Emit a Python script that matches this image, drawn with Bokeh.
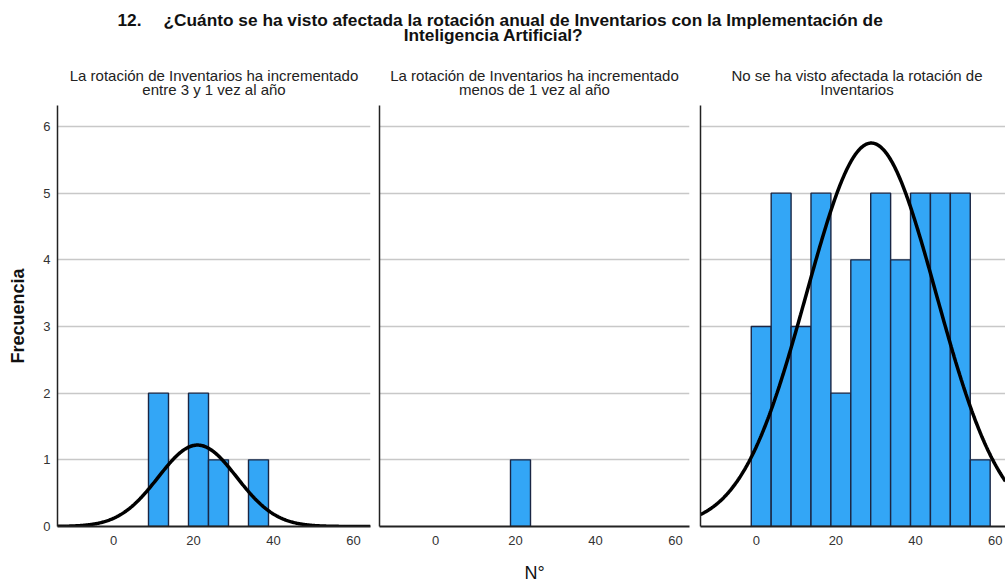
import numpy as np
from bokeh.plotting import figure
from bokeh.layouts import column, row
from bokeh.models import Range1d, FixedTicker
from bokeh.core.properties import value
from bokeh.embed import file_html
from bokeh.resources import INLINE

# ---- data -------------------------------------------------------------
title_num = "12."
title_line1 = "¿Cuánto se ha visto afectada la rotación anual de Inventarios con la Implementación de"
title_line2 = "Inteligencia Artificial?"

panel_titles = [
    ["La rotación de Inventarios ha incrementado", "entre 3 y 1 vez al año"],
    ["La rotación de Inventarios ha incrementado", "menos de 1 vez al año"],
    ["No se ha visto afectada la rotación de", "Inventarios"],
]

# histogram bins shared by all groups (left edges, common width)
bin_lefts = [-1.25, 3.75, 8.75, 13.75, 18.75, 23.75, 28.75, 33.75, 38.75, 43.75, 48.75, 53.75]
bin_width = 5.0

counts_incr_3_1 = [0, 0, 2, 0, 2, 1, 0, 1, 0, 0, 0, 0]
counts_incr_menos_1 = [0, 0, 0, 0, 1, 0, 0, 0, 0, 0, 0, 0]
counts_no_afectada = [3, 5, 3, 5, 2, 4, 5, 4, 5, 5, 5, 1]
group_counts = [counts_incr_3_1, counts_incr_menos_1, counts_no_afectada]

# fitted normal curve (mean, std. dev.) per group; None = no curve
normal_params = [(21.0, 9.8), None, (28.9, 16.3)]

x_ticks = [0, 20, 40, 60]
y_ticks = [0, 1, 2, 3, 4, 5, 6]
y_label = "Frecuencia"
x_label = "N°"

# ---- styling ----------------------------------------------------------
FONT = "Liberation Sans"
BAR_FILL = "#33a6f6"
BAR_LINE = "#1a2644"
GRID = "#c8c8c8"
AXIS = "#222222"

# panel geometry: (border_left, frame_width, border_right, x_end)
geometry = [
    (57, 313, 4, 64.25),
    (5, 310, 5, 63.5),
    (6, 305, 0, 62.6),
]
X_START = -14.0
FRAME_H = 421
Y_END = 6.315
HEADER_H = 101

# ---- header strip: main title and panel headings -----------------------
top = figure(width=1005, height=HEADER_H, x_range=Range1d(0, 1005), y_range=Range1d(HEADER_H, 0),
             toolbar_location=None, output_backend="svg", min_border=0)
top.axis.visible = False
top.grid.visible = False
top.outline_line_color = None
title_style = dict(text_font=value(FONT), text_font_style="bold", text_font_size="17.3px",
                   text_baseline="middle", text_color="#111111")
top.text(x=[141], y=[19], text=[title_num], text_align="right", **title_style)
top.text(x=[163], y=[19], text=[title_line1], text_align="left", **title_style)
top.text(x=[493], y=[34], text=[title_line2], text_align="center", **title_style)

# horizontal centre of each panel frame (third panel runs past the page edge)
panel_centres = [57 + 313 / 2, 379 + 310 / 2, 700 + 313 / 2]
head_style = dict(text_font=value(FONT), text_font_size="15px", text_baseline="middle",
                  text_align="center", text_color="#222222")
for cx, lines in zip(panel_centres, panel_titles):
    top.text(x=[cx, cx], y=[75, 88.5], text=lines, **head_style)

# ---- histogram panels ---------------------------------------------------
panels = []
for i, (counts, params, geo) in enumerate(zip(group_counts, normal_params, geometry)):
    bl, fw, br, x_end = geo
    p = figure(frame_width=fw, frame_height=FRAME_H,
               x_range=Range1d(X_START, x_end), y_range=Range1d(0, Y_END),
               toolbar_location=None, output_backend="svg",
               min_border_left=bl, min_border_right=br, min_border_top=4, min_border_bottom=58)
    p.title = None
    p.outline_line_color = None
    p.background_fill_color = "white"
    p.border_fill_color = "white"

    p.xgrid.visible = False
    p.ygrid.ticker = FixedTicker(ticks=y_ticks[1:])
    p.ygrid.grid_line_color = GRID
    p.ygrid.grid_line_width = 1.5

    xa = p.xaxis[0]
    xa.ticker = FixedTicker(ticks=x_ticks)
    xa.major_tick_line_color = None
    xa.minor_tick_line_color = None
    xa.major_tick_out = 0
    xa.major_tick_in = 0
    xa.major_label_standoff = 9
    xa.major_label_text_font = FONT
    xa.major_label_text_font_size = "13px"
    xa.major_label_text_color = "#333333"
    xa.axis_line_color = AXIS
    xa.axis_line_width = 2

    ya = p.yaxis[0]
    ya.major_tick_line_color = None
    ya.minor_tick_line_color = None
    ya.major_tick_out = 0
    ya.major_tick_in = 0
    ya.axis_line_color = AXIS
    ya.axis_line_width = 1.5
    if i == 0:
        ya.ticker = FixedTicker(ticks=y_ticks)
        ya.major_label_standoff = 7
        ya.major_label_text_font = FONT
        ya.major_label_text_font_size = "13px"
        ya.major_label_text_color = "#333333"
        ya.axis_label = y_label
        ya.axis_label_text_font = FONT
        ya.axis_label_text_font_size = "18px"
        ya.axis_label_text_font_style = "bold"
        ya.axis_label_text_color = "#111111"
        ya.axis_label_standoff = 12
    else:
        # shared y scale: the inner panels only keep the axis line
        ya.ticker = FixedTicker(ticks=[])
        ya.major_label_standoff = 0
    if i == 1:
        xa.axis_label = x_label
        xa.axis_label_text_font = FONT
        xa.axis_label_text_font_size = "18px"
        xa.axis_label_text_font_style = "normal"
        xa.axis_label_text_color = "#111111"
        xa.axis_label_standoff = 15

    lefts = np.array(bin_lefts)
    cnt = np.array(counts, dtype=float)
    keep = cnt > 0
    p.quad(left=lefts[keep], right=lefts[keep] + bin_width, bottom=0, top=cnt[keep],
           fill_color=BAR_FILL, line_color=BAR_LINE, line_width=1.4)

    if params is not None:
        mu, sd = params
        n = cnt.sum()
        xs = np.linspace(X_START, x_end, 400)
        ys = n * bin_width / (sd * np.sqrt(2 * np.pi)) * np.exp(-0.5 * ((xs - mu) / sd) ** 2)
        p.line(xs, ys, line_color="black", line_width=3.5)

    panels.append(p)

layout = column(top, row(*panels, spacing=0), spacing=0)
open("out.html", "w").write(file_html(layout, INLINE))
